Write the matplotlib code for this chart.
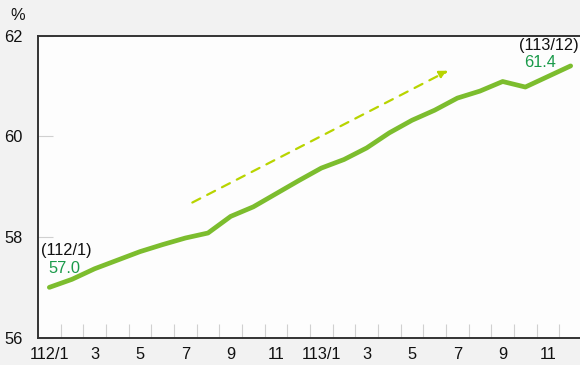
import matplotlib
matplotlib.use("Agg")
import matplotlib.pyplot as plt
import numpy as np

plt.rcParams['font.family'] = ['Liberation Sans', 'DejaVu Sans']

months = ["112/1", "2", "3", "4", "5", "6", "7", "8", "9", "10", "11", "12",
          "113/1", "2", "3", "4", "5", "6", "7", "8", "9", "10", "11", "12"]
values = [57.0, 57.16, 57.37, 57.54, 57.71, 57.85, 57.98, 58.08, 58.41, 58.6,
          58.86, 59.12, 59.37, 59.54, 59.77, 60.07, 60.32, 60.52, 60.76, 60.9,
          61.09, 60.98, 61.19, 61.4]
yticks = [56, 58, 60, 62]
start_label = "(112/1)"
end_label = "(113/12)"

FS = 11.8

fig = plt.figure(figsize=(5.8, 3.65), dpi=100, facecolor="#f2f2f2")
ax = fig.add_axes([38/580, 1-337.7/365, 544/580, (337.7-35.7)/365])
ax.set_facecolor("#fdfdfd")

x = np.arange(len(values))
ax.plot(x, values, color="#7cbd2e", lw=3.4, solid_capstyle="round", solid_joinstyle="round", zorder=3)

ax.set_xlim(-0.5, len(values) - 0.5)
ax.set_ylim(56, 62)

# x labels every other month
ax.set_xticks(x[::2])
ax.set_xticklabels(months[::2], fontsize=FS, color="#111111")
ax.tick_params(axis="x", which="major", length=0, pad=7)
ax.set_xticks(np.arange(len(values) + 1) - 0.5, minor=True)
ax.tick_params(axis="x", which="minor", direction="in", length=10, color="#d0d0d0", width=0.8)

ax.set_yticks(yticks)
ax.set_yticklabels([str(v) for v in yticks], fontsize=FS, color="#111111")
ax.tick_params(axis="y", which="major", direction="in", length=11, color="#d0d0d0", width=0.8, pad=11)

for s in ["left", "bottom", "top"]:
    ax.spines[s].set_color("#333333")
    ax.spines[s].set_linewidth(1.4)
ax.spines["right"].set_visible(False)

# trend arrow
ax.annotate("", xy=(17.7, 61.33), xytext=(6.2, 58.66),
            arrowprops=dict(arrowstyle="-|>,head_length=0.5,head_width=0.25", color="#b8d400",
                            lw=1.6, linestyle=(0, (4, 3.5))), zorder=2)

# labels
ax.text(-0.35, 57.74, start_label, fontsize=FS, color="#111111", ha="left", va="center")
ax.text(-0.05, 57.38, f"{values[0]:.1f}", fontsize=FS, color="#1a9a4a", ha="left", va="center")
ax.text(len(values) - 1 - 2.3, 61.8, end_label, fontsize=FS, color="#111111", ha="left", va="center")
ax.text(len(values) - 1 - 2.05, 61.46, f"{values[-1]:.1f}", fontsize=FS, color="#1a9a4a", ha="left", va="center")

fig.text(18/580, 1-15/365, "%", fontsize=FS, color="#111111", ha="center", va="center")

fig.savefig("out.png", dpi=100, facecolor=fig.get_facecolor())
